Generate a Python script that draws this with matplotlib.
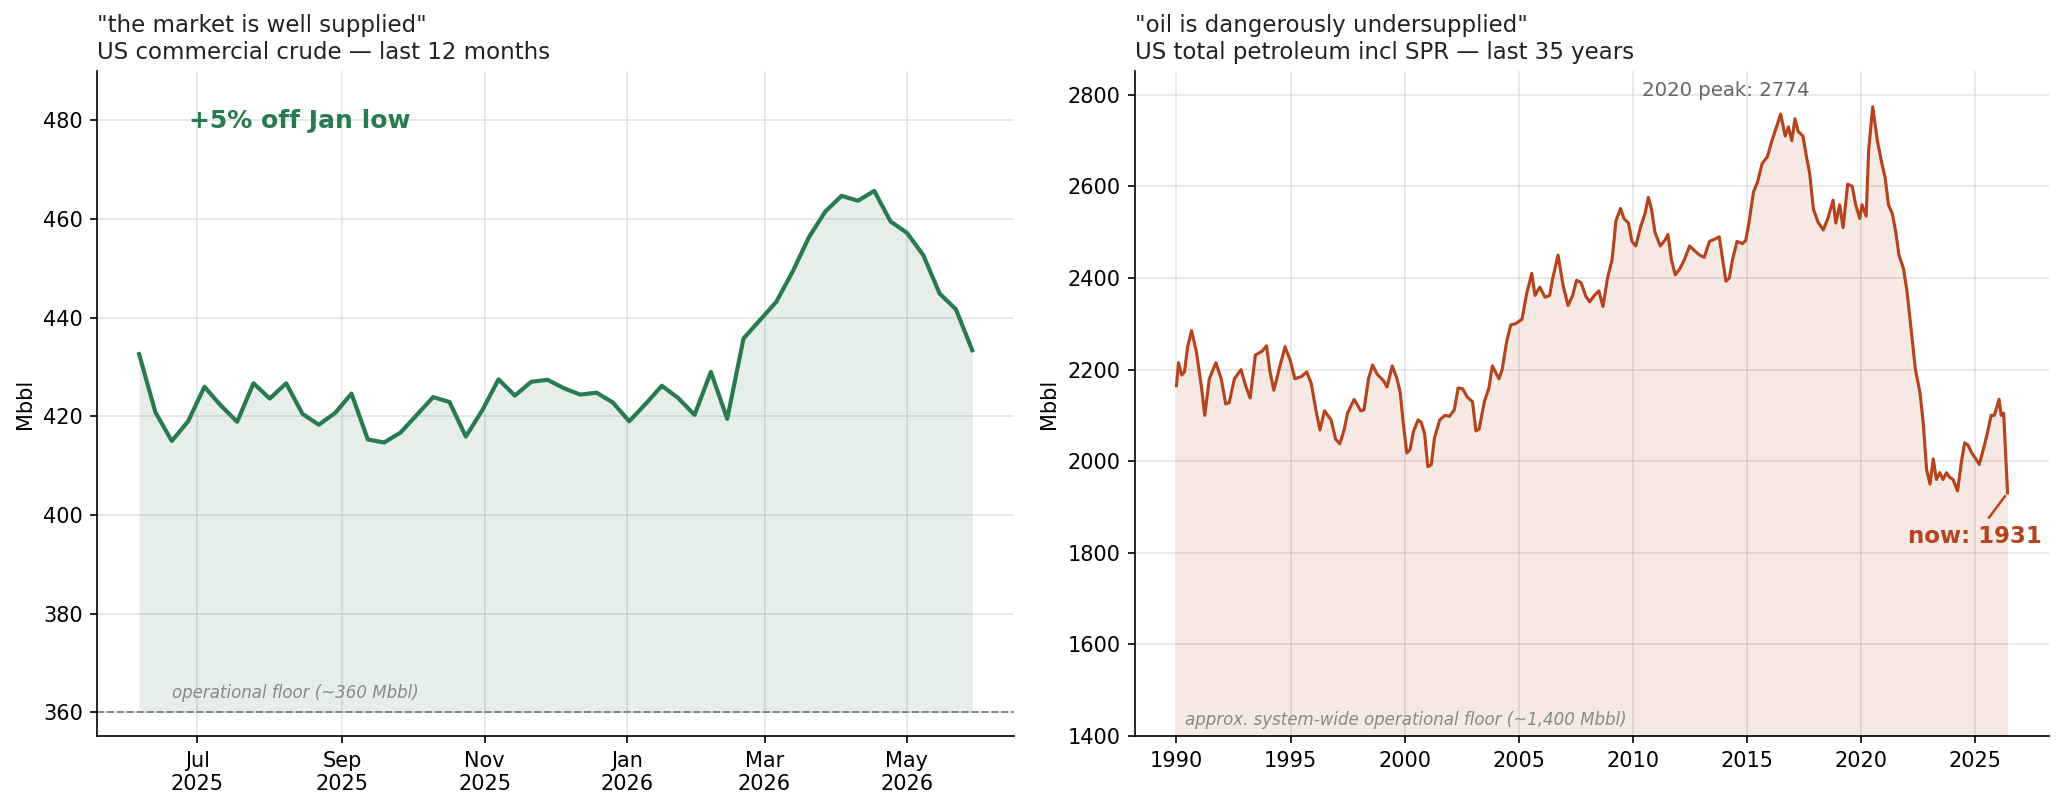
import pandas as pd
import matplotlib
matplotlib.use("Agg")
import matplotlib.pyplot as plt
import matplotlib.dates as mdates
from matplotlib.ticker import MultipleLocator

GREEN = "#2a7a4f"
RUST = "#b5441e"

# ── Left: US commercial crude, weekly, last 12 months (Mbbl) ──
crude_first_week = "2025-06-06"
crude_mbbl = [
    432.6, 420.8, 415.0, 419.0, 426.0, 422.2, 418.9, 426.7, 423.6, 426.7,
    420.5, 418.3, 420.7, 424.6, 415.3, 414.7, 416.7, 420.3, 423.9, 422.9,
    415.9, 421.2, 427.5, 424.2, 427.0, 427.4, 425.7, 424.4, 424.8, 422.8,
    419.0, 422.5, 426.2, 423.7, 420.3, 429.0, 419.5, 435.8, 439.5, 443.2,
    449.3, 456.3, 461.5, 464.7, 463.7, 465.7, 459.5, 457.2, 452.7, 444.9,
    441.7, 433.4,
]
crude_floor = 360

# ── Right: US total petroleum incl SPR, last 35 years (Mbbl) ──
total_years = [
    1990.00, 1990.09, 1990.23, 1990.35, 1990.49, 1990.66, 1990.87, 1991.10, 1991.24, 1991.44,
    1991.73, 1991.96, 1992.16, 1992.31, 1992.54, 1992.83, 1993.03, 1993.23, 1993.46, 1993.75,
    1993.95, 1994.10, 1994.27, 1994.47, 1994.76, 1994.99, 1995.19, 1995.48, 1995.71, 1995.91,
    1996.12, 1996.29, 1996.49, 1996.78, 1996.98, 1997.16, 1997.36, 1997.50, 1997.79, 1998.08,
    1998.22, 1998.42, 1998.60, 1998.80, 1999.09, 1999.23, 1999.46, 1999.67, 1999.81, 1999.95,
    2000.10, 2000.24, 2000.39, 2000.59, 2000.73, 2000.88, 2001.02, 2001.17, 2001.31, 2001.54,
    2001.77, 2001.97, 2002.18, 2002.35, 2002.55, 2002.75, 2002.98, 2003.13, 2003.27, 2003.50,
    2003.70, 2003.85, 2004.14, 2004.28, 2004.48, 2004.66, 2004.86, 2005.15, 2005.35, 2005.58,
    2005.72, 2005.93, 2006.16, 2006.36, 2006.50, 2006.73, 2006.96, 2007.17, 2007.37, 2007.54,
    2007.74, 2007.95, 2008.12, 2008.32, 2008.52, 2008.70, 2008.90, 2009.10, 2009.27, 2009.47,
    2009.62, 2009.82, 2009.97, 2010.14, 2010.34, 2010.54, 2010.69, 2010.83, 2010.98, 2011.21,
    2011.41, 2011.55, 2011.70, 2011.87, 2012.07, 2012.27, 2012.50, 2012.71, 2012.94, 2013.14,
    2013.37, 2013.60, 2013.80, 2013.95, 2014.09, 2014.24, 2014.38, 2014.58, 2014.81, 2014.96,
    2015.10, 2015.30, 2015.48, 2015.68, 2015.91, 2016.11, 2016.31, 2016.49, 2016.69, 2016.83,
    2016.98, 2017.12, 2017.26, 2017.47, 2017.64, 2017.76, 2017.93, 2018.13, 2018.36, 2018.56,
    2018.79, 2018.91, 2019.08, 2019.23, 2019.43, 2019.63, 2019.78, 2019.96, 2020.06, 2020.24,
    2020.35, 2020.53, 2020.73, 2020.93, 2021.07, 2021.22, 2021.39, 2021.54, 2021.68, 2021.88,
    2022.03, 2022.23, 2022.40, 2022.60, 2022.75, 2022.89, 2023.04, 2023.18, 2023.32, 2023.47,
    2023.61, 2023.76, 2023.90, 2024.05, 2024.25, 2024.42, 2024.56, 2024.71, 2024.85, 2025.05,
    2025.20, 2025.40, 2025.55, 2025.72, 2025.86, 2026.07, 2026.16, 2026.27, 2026.44,
]
total_mbbl = [
    2165, 2215, 2188, 2195, 2250, 2285, 2240, 2160, 2100, 2180,
    2215, 2180, 2125, 2128, 2180, 2200, 2165, 2138, 2232, 2240,
    2252, 2195, 2155, 2195, 2250, 2220, 2180, 2185, 2195, 2170,
    2110, 2068, 2110, 2090, 2048, 2038, 2070, 2105, 2135, 2110,
    2112, 2180, 2210, 2190, 2175, 2162, 2208, 2180, 2150, 2080,
    2018, 2025, 2065, 2090, 2085, 2060, 1988, 1992, 2050, 2090,
    2100, 2098, 2112, 2160, 2158, 2140, 2130, 2066, 2070, 2130,
    2160, 2208, 2180, 2200, 2262, 2298, 2300, 2310, 2365, 2410,
    2362, 2380, 2358, 2362, 2400, 2450, 2382, 2340, 2362, 2395,
    2390, 2360, 2348, 2362, 2372, 2338, 2400, 2440, 2525, 2552,
    2530, 2520, 2480, 2470, 2510, 2540, 2576, 2550, 2500, 2470,
    2482, 2495, 2440, 2407, 2420, 2440, 2470, 2460, 2450, 2445,
    2480, 2485, 2490, 2440, 2393, 2400, 2440, 2480, 2475, 2482,
    2520, 2588, 2610, 2650, 2665, 2700, 2730, 2758, 2710, 2730,
    2700, 2748, 2720, 2710, 2660, 2630, 2550, 2522, 2505, 2530,
    2570, 2520, 2560, 2510, 2605, 2600, 2560, 2530, 2560, 2535,
    2680, 2774, 2700, 2650, 2620, 2560, 2540, 2500, 2450, 2420,
    2371, 2280, 2200, 2150, 2080, 1982, 1950, 2005, 1960, 1975,
    1960, 1975, 1965, 1960, 1935, 2000, 2040, 2035, 2020, 2005,
    1993, 2030, 2060, 2100, 2100, 2135, 2100, 2105, 1931,
]
total_floor = 1400

plt.rcParams["font.size"] = 10

fig = plt.figure(figsize=(2065 / 150, 810 / 150), dpi=150)
ax_l = fig.add_axes([0.0472, 0.0914, 0.4438, 0.8209])
ax_r = fig.add_axes([0.5496, 0.0914, 0.4427, 0.8209])

# ── Left panel ──
dates = pd.date_range(crude_first_week, periods=len(crude_mbbl), freq="7D")
ax_l.plot(dates, crude_mbbl, color=GREEN, linewidth=2, zorder=3)
ax_l.fill_between(dates, crude_mbbl, crude_floor, color=GREEN, alpha=0.12, linewidth=0)
ax_l.axhline(crude_floor, color="gray", linestyle="--", linewidth=0.9)
ax_l.text(dates[2], crude_floor + 2, "operational floor (~360 Mbbl)",
          fontsize=8, style="italic", color="#888888", va="bottom")
ax_l.text(0.1, 0.925, "+5% off Jan low", transform=ax_l.transAxes,
          fontsize=12, fontweight="bold", color=GREEN, va="center")
ax_l.set_ylim(355.2, 490)
ax_l.xaxis.set_major_locator(mdates.MonthLocator(bymonth=[1, 3, 5, 7, 9, 11]))
ax_l.xaxis.set_major_formatter(mdates.DateFormatter("%b\n%Y"))
ax_l.set_ylabel("Mbbl")
ax_l.set_title('"the market is well supplied"\nUS commercial crude \u2014 last 12 months',
               loc="left", fontsize=11, color="#222222")

# ── Right panel ──
ax_r.plot(total_years, total_mbbl, color=RUST, linewidth=1.5, zorder=3)
ax_r.fill_between(total_years, total_mbbl, total_floor, color=RUST, alpha=0.12, linewidth=0)
ax_r.text(total_years[1] + 0.3, total_floor + 15,
          "approx. system-wide operational floor (~1,400 Mbbl)",
          fontsize=8, style="italic", color="#888888", va="bottom")
peak = max(total_mbbl)
ax_r.text(0.555, 0.985, f"2020 peak: {peak}", transform=ax_r.transAxes,
          fontsize=9.5, color="#666666", va="top")
ax_r.annotate(f"now: {total_mbbl[-1]}", xy=(total_years[-1], total_mbbl[-1]),
              xytext=(2025.0, 1835), ha="center", va="center",
              fontsize=11, fontweight="bold", color=RUST,
              arrowprops=dict(arrowstyle="-", color=RUST, lw=1.2))
ax_r.set_ylim(1400, 2852)
ax_r.xaxis.set_major_locator(MultipleLocator(5))
ax_r.xaxis.set_major_formatter(lambda v, p: f"{v:.0f}")
ax_r.set_ylabel("Mbbl")
ax_r.set_title('"oil is dangerously undersupplied"\nUS total petroleum incl SPR \u2014 last 35 years',
               loc="left", fontsize=11, color="#222222")

for ax in (ax_l, ax_r):
    ax.spines["top"].set_visible(False)
    ax.spines["right"].set_visible(False)
    ax.grid(True, color="#cccccc", alpha=0.5, linewidth=0.8)
    ax.set_axisbelow(True)

fig.savefig("out.png", dpi=150)
